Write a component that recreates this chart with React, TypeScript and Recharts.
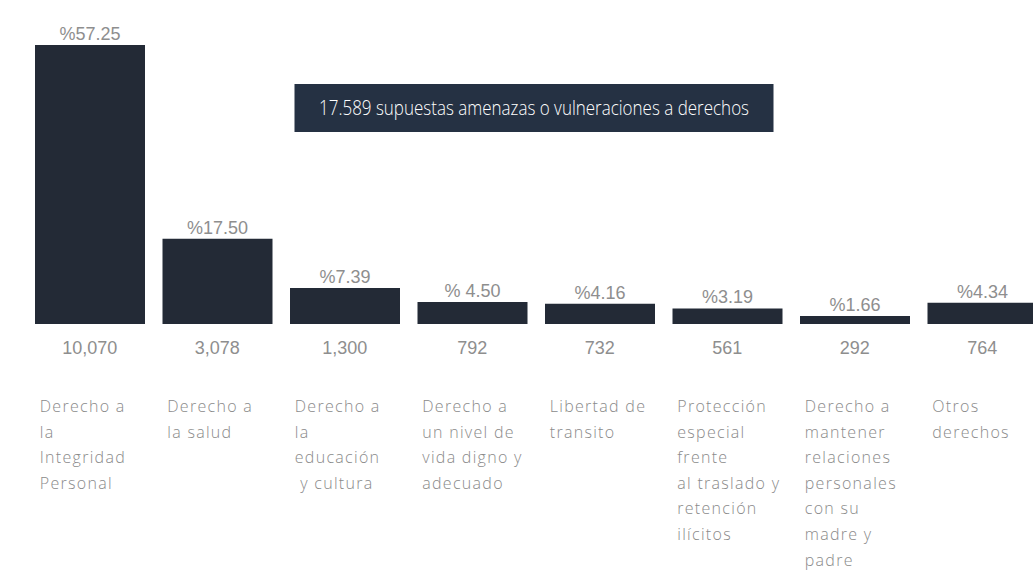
import React from "react";
import { BarChart, Bar, XAxis, YAxis, LabelList } from "recharts";

const categories: string[] = [
  "Derecho a\nla\nIntegridad\nPersonal",
  "Derecho a\nla salud",
  "Derecho a\nla\neducación\n y cultura",
  "Derecho a\nun nivel de\nvida digno y\nadecuado",
  "Libertad de\ntransito",
  "Protección\nespecial\nfrente\nal traslado y\nretención\nilícitos",
  "Derecho a\nmantener\nrelaciones\npersonales\ncon su\nmadre y\npadre",
  "Otros\nderechos",
];
const counts: number[] = [10070, 3078, 1300, 792, 732, 561, 292, 764];
const percentLabels: string[] = ["%57.25", "%17.50", "%7.39", "% 4.50", "%4.16", "%3.19", "%1.66", "%4.34"];
const titleText = "17.589 supuestas amenazas o vulneraciones a derechos";

const data = categories.map((c, i) => ({ category: c, count: counts[i], pct: percentLabels[i] }));

const BAR_COLOR = "#232a36";
const LABEL_GREY = "#8e8e8e";
const CAT_GREY = "#8a8a8a";

const CategoryTick = (props: any) => {
  const { x, y, payload, index } = props;
  const lines: string[] = String(payload.value).split("\n");
  const value = counts[index];
  const left = x - 50;
  return (
    <g>
      <text
        x={x}
        y={y + 30}
        textAnchor="middle"
        fill={LABEL_GREY}
        fontFamily="'Liberation Sans', Arial, sans-serif"
        fontSize={18}
      >
        {value.toLocaleString("en-US")}
      </text>
      <text
        x={left}
        y={y + 88}
        textAnchor="start"
        fill={CAT_GREY}
        fontFamily="'Open Sans', Lato, sans-serif"
        fontWeight={300}
        fontSize={16}
        letterSpacing={1.3}
      >
        {lines.map((ln, i) => (
          <tspan key={i} x={left} dy={i === 0 ? 0 : 25.6} style={{ whiteSpace: "pre" }}>
            {ln}
          </tspan>
        ))}
      </text>
    </g>
  );
};

export default function App() {
  return (
    <div style={{ position: "absolute", left: 0, top: 0, width: 1033, height: 570, overflow: "hidden", background: "#fff" }}>
      <BarChart
        width={1033}
        height={570}
        data={data}
        margin={{ top: 45, right: -13, left: 26, bottom: 0 }}
      >
        <YAxis hide width={0} domain={[0, 10070]} />
        <XAxis
          dataKey="category"
          height={246}
          axisLine={false}
          tickLine={false}
          tickSize={0}
          tickMargin={0}
          interval={0}
          tick={<CategoryTick />}
        />
        <Bar dataKey="count" fill={BAR_COLOR} barSize={110} isAnimationActive={false}>
          <LabelList
            dataKey="pct"
            position="top"
            offset={5}
            fill={LABEL_GREY}
            fontFamily="'Liberation Sans', Arial, sans-serif"
            fontSize={18}
          />
        </Bar>
      </BarChart>
      <svg
        width={600}
        height={48}
        style={{ position: "absolute", left: 233.5, top: 84, overflow: "visible" }}
      >
        <rect x={60.5} y={0} width={479} height={48} fill="#253143" />
        <text
          x={300}
          y={31}
          textAnchor="middle"
          fill="#ffffff"
          fontFamily="'Open Sans', Lato, sans-serif"
          fontWeight={300}
          fontSize={20}
          textLength={430}
          lengthAdjust="spacingAndGlyphs"
        >
          {titleText}
        </text>
      </svg>
    </div>
  );
}
